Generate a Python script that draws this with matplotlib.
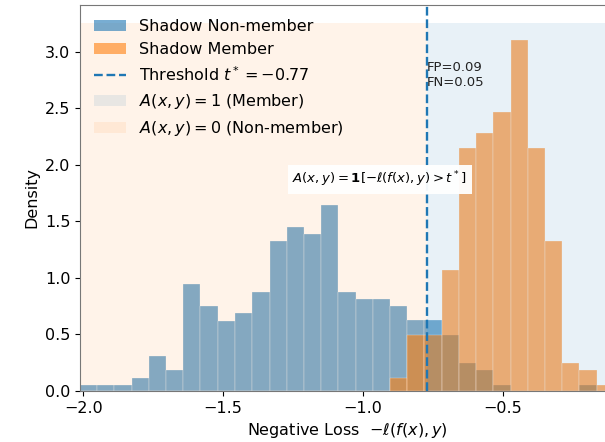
import numpy as np
import matplotlib
matplotlib.use("Agg")
import matplotlib.pyplot as plt
from matplotlib.patches import Patch
from matplotlib.lines import Line2D

# Histogram bin edges (shared by both series)
bin_edges = [-2.012, -1.950, -1.889, -1.827, -1.766, -1.704, -1.642, -1.581,
             -1.519, -1.458, -1.396, -1.334, -1.273, -1.211, -1.150, -1.088,
             -1.026, -0.965, -0.903, -0.842, -0.780, -0.718, -0.657, -0.595,
             -0.534, -0.472, -0.410, -0.349, -0.287, -0.226, -0.164, -0.102]

# Density values
nonmember_density = [0.053, 0.053, 0.053, 0.114, 0.307, 0.182, 0.945, 0.752,
                     0.621, 0.690, 0.876, 1.327, 1.452, 1.390, 1.644, 0.876,
                     0.817, 0.817, 0.752, 0.624, 0.624, 0.494, 0.245, 0.182,
                     0.053, 0.0, 0.0, 0.0, 0.0, 0.053, 0.0]
member_density = [0.0] * 18 + [0.114, 0.494, 0.494, 1.066, 2.149, 2.279,
                               2.466, 3.103, 2.149, 1.324, 0.245, 0.182, 0.053]

threshold = -0.77
fp_rate = 0.09
fn_rate = 0.05

labels = ["Shadow Non-member", "Shadow Member", r"Threshold $t^*=-0.77$",
          r"$A(x,y)=1$ (Member)", r"$A(x,y)=0$ (Non-member)"]

edges = np.array(bin_edges)
centers = (edges[:-1] + edges[1:]) / 2
xmin, xmax = edges[0], edges[-1]
ymax = max(max(nonmember_density), max(member_density))

fig = plt.figure(figsize=(6.05, 4.42), dpi=100)
ax = fig.add_axes([80 / 605, 51 / 442, 534 / 605, 386 / 442])

blue = "tab:blue"
orange = "tab:orange"

ax.hist(centers, bins=edges, weights=nonmember_density, color=blue, alpha=0.6,
        edgecolor="white", linewidth=0.35, zorder=1)
ax.hist(centers, bins=edges, weights=member_density, color=orange, alpha=0.6,
        edgecolor="white", linewidth=0.35, zorder=1)

# decision regions drawn over the bars
ax.fill_between([threshold, xmax], 0, ymax * 1.05, color=blue, alpha=0.1,
                linewidth=0, zorder=1.5)
ax.fill_between([xmin, threshold], 0, ymax * 1.05, color=orange, alpha=0.09,
                linewidth=0, zorder=1.5)

ax.axvline(threshold, color=blue, linestyle="--", linewidth=1.7, zorder=2)

ax.text(threshold, ymax * 0.94, f"FP={fp_rate:.2f}\nFN={fn_rate:.2f}",
        ha="left", va="top", fontsize=9.5, color="#222222", zorder=3)

ax.text(-0.94, 1.87, r"$A(x,y) = \mathbf{1}[-\ell(f(x),y) > t^*]$",
        ha="center", va="center", fontsize=9.5, zorder=4,
        bbox=dict(facecolor="white", edgecolor="none", alpha=0.95,
                  boxstyle="square,pad=0.35"))

ax.set_xlim(xmin, xmax)
ax.set_ylim(0, ymax * 1.1)
ax.set_xticks([-2.0, -1.5, -1.0, -0.5])
ax.set_yticks([0.0, 0.5, 1.0, 1.5, 2.0, 2.5, 3.0])
ax.tick_params(labelsize=11.5)
ax.set_xlabel(r"Negative Loss  $-\ell(f(x), y)$", fontsize=11.5)
ax.set_ylabel("Density", fontsize=11.5)
for s in ax.spines.values():
    s.set_color("#777777")

handles = [
    Patch(facecolor=blue, alpha=0.6),
    Patch(facecolor=orange, alpha=0.6),
    Line2D([0], [0], color=blue, linestyle="--", linewidth=1.7),
    Patch(facecolor=blue, alpha=0.1),
    Patch(facecolor=orange, alpha=0.09),
]
ax.legend(handles, labels, loc="upper left", frameon=False, fontsize=11.5)

fig.savefig("out.png", dpi=100)
